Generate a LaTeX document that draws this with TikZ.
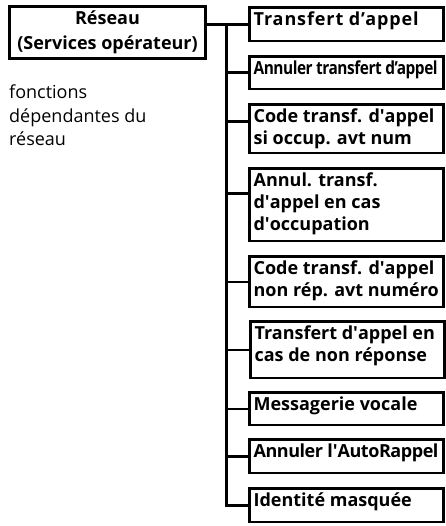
\documentclass[tikz,border=0pt]{standalone}
\usepackage{fontspec}
\setmainfont{Open Sans}
\usepackage{graphicx}
\usetikzlibrary{calc}

\newcommand{\boxtext}[2]{\parbox[c][#1][t]{186pt}{\raggedright\strut #2}}
\newcommand{\q}{\textquotesingle}
\newcommand{\track}[2]{{\addfontfeature{LetterSpace=#1}#2}}

\begin{document}
\begin{tikzpicture}[x = 1pt, y = -1pt,
    every node/.style = {font = \fontsize{18}{23.5}\selectfont},
    root box/.style = {draw, line width = 2.6pt, inner sep = 0pt,
      minimum width = 196.4pt, minimum height = 52.4pt, align = center,
      font = \fontsize{18}{25}\selectfont\bfseries},
    branch box/.style = {draw, line width = 2.6pt, anchor = north west,
      inner xsep = 4pt, inner ysep = 2.3pt, font = \fontsize{18}{22}\selectfont\bfseries},
    link/.style = {line width = 2.6pt}]
  \useasboundingbox (0, 0) rectangle (445, 526);
  % Wurzel und Hinweis
  \node[root box] (root) at (107.5, 32.5) {R\'eseau\\(Services op\'erateur)};
  \node[anchor = north west, inner sep = 0 pt, align = left] (note) %
    at (9, 85) {fonctions\\d\'ependantes du\\r\'eseau};
  % Zweige
  \node[branch box] (b1) at (248.3, 6.3) {\boxtext{28.8pt}{\track{5}{Transfert d'appel}}};
  \node[branch box] (b2) at (248.3, 55.3) {\boxtext{27.8pt}{\resizebox{184pt}{\height}{\track{-3}{Annuler transfert d'appel}}}};
  \node[branch box] (b3) at (248.3, 103.3) {\boxtext{43.8pt}{Code transf. d\q appel\\si occup. avt num}};
  \node[branch box] (b4) at (248.3, 167.3) {\boxtext{67.8pt}{Annul. transf.\\d\q appel en cas\\d\q occupation}};
  \node[branch box] (b5) at (248.3, 255.3) {\boxtext{45.8pt}{Code transf. d\q appel\\non r\'ep. avt num\'ero}};
  \node[branch box] (b6) at (249.3, 320.3) {\boxtext{51.8pt}{Transfert d\q appel en\\cas de non r\'eponse}};
  \node[branch box] (b7) at (248.3, 391.3) {\boxtext{27.8pt}{Messagerie vocale}};
  \node[branch box] (b8) at (248.3, 438.3) {\boxtext{28.8pt}{\track{-2.5}{Annuler l\q AutoRappel}}};
  \node[branch box] (b9) at (248.3, 487.3) {\boxtext{28.8pt}{Identit\'e masqu\'ee}};
  % Verbindungen
  \coordinate (trunk) at (226.5, 0);
  \draw[link] (root.east |- b1.west) -- (b1.west);
  \draw[link] (trunk |- b1.west) -- (trunk |- b9.west) -- (b9.west);
  \draw[link] (trunk |- b2.west) -- (b2.west);
  \draw[link] ([yshift = 7.5pt]trunk |- b3.west) -- ([yshift = 7.5pt]b3.west);
  \draw[link] ([yshift = 11.5pt]trunk |- b4.west) -- ([yshift = 11.5pt]b4.west);
  \draw[link] (trunk |- b5.west) -- (b5.west);
  \draw[link] (trunk |- b6.west) -- (b6.west);
  \draw[link] (trunk |- b7.west) -- (b7.west);
  \draw[link] (trunk |- b8.west) -- (b8.west);
\end{tikzpicture}
\end{document}
